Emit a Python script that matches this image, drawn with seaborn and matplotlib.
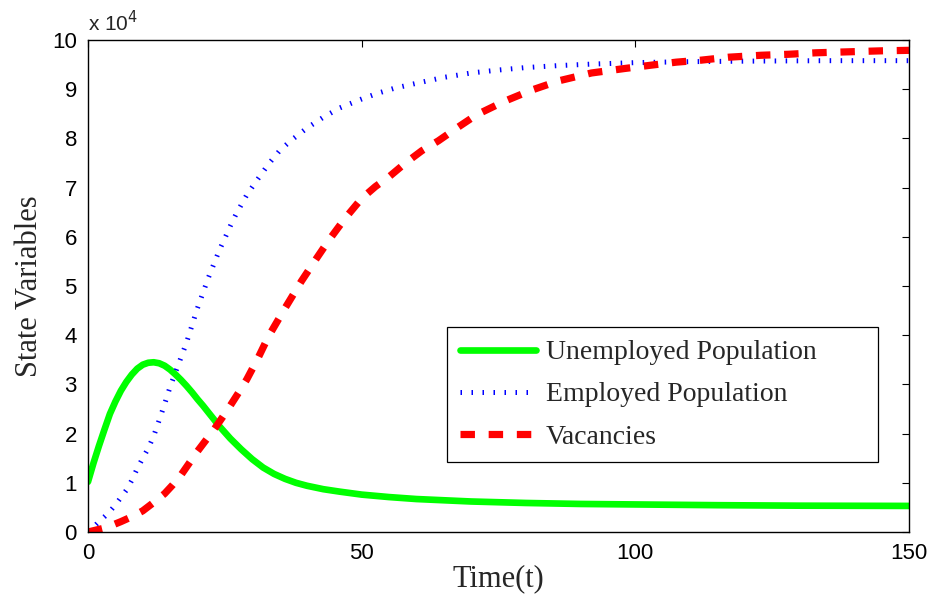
import matplotlib
matplotlib.use("Agg")
import matplotlib.pyplot as plt
import seaborn as sns

# ---- data (values in units of 10^4) ----
t_unemp = [0, 1, 2, 3, 4, 5, 6, 7, 8, 9, 10, 11, 12, 13, 14, 15, 16, 17, 18, 19, 20, 21, 22, 23, 24,
           26, 28, 30, 32, 34, 36, 38, 40, 43, 46, 50, 55, 60, 70, 80, 90, 100, 115, 130, 150]
unemp = [1.02, 1.4, 1.75, 2.08, 2.4, 2.65, 2.87, 3.05, 3.2, 3.32, 3.4, 3.44, 3.45, 3.43, 3.38, 3.3,
         3.2, 3.09, 2.97, 2.84, 2.7, 2.57, 2.43, 2.29, 2.15, 1.9, 1.68, 1.48, 1.31, 1.18, 1.08, 1.0,
         0.94, 0.87, 0.82, 0.76, 0.71, 0.67, 0.62, 0.59, 0.57, 0.56, 0.545, 0.535, 0.53]

t_emp = [0, 1, 2, 3, 4, 5, 6, 7, 8, 9, 10, 11, 12, 13, 14, 15, 16, 17, 18, 19, 20, 21, 22, 23, 24,
         25, 26, 27, 29, 31, 33, 35, 37, 40, 43, 46, 50, 53, 56, 60, 65, 70, 75, 80, 86, 92, 100,
         110, 120, 135, 150]
emp = [0, 0.1, 0.21, 0.31, 0.42, 0.55, 0.7, 0.85, 1.05, 1.29, 1.5, 1.7, 1.95, 2.27, 2.6, 2.95, 3.25,
       3.55, 3.85, 4.2, 4.55, 4.86, 5.17, 5.45, 5.73, 5.97, 6.22, 6.45, 6.85, 7.17, 7.48, 7.75, 7.95,
       8.21, 8.43, 8.62, 8.8, 8.92, 9.02, 9.12, 9.24, 9.33, 9.39, 9.44, 9.48, 9.51, 9.54, 9.56, 9.57,
       9.58, 9.58]

t_vac = [0, 1.5, 3, 4, 6, 8, 10, 12, 14, 15.5, 17, 18.5, 20, 21.5, 23, 24.5, 26, 27.5, 29, 31, 33,
         36, 39, 41.5, 44, 47, 50, 52.5, 55, 58, 61, 64, 67.5, 71, 76, 81, 86, 92, 98, 103, 107.5,
         112, 117, 123, 128, 133, 139, 145, 150]
vac = [0, 0.04, 0.08, 0.12, 0.21, 0.31, 0.43, 0.6, 0.78, 0.96, 1.16, 1.4, 1.64, 1.86, 2.08, 2.32,
       2.57, 2.83, 3.1, 3.52, 3.98, 4.55, 5.1, 5.52, 5.93, 6.38, 6.78, 7.02, 7.22, 7.5, 7.75, 7.95,
       8.22, 8.48, 8.75, 8.98, 9.17, 9.33, 9.42, 9.49, 9.55, 9.59, 9.65, 9.69, 9.71, 9.74, 9.76,
       9.78, 9.79]

labels = ["Unemployed Population", "Employed Population", "Vacancies"]
x_ticks = [0, 50, 100, 150]
y_ticks = list(range(0, 11))

sns.set_style("white")
plt.rcParams["font.family"] = ["Liberation Sans", "DejaVu Sans"]

fig = plt.figure(figsize=(9.3, 5.97), dpi=100)
ax = fig.add_axes([88 / 930, 65 / 597, 821 / 930, 492 / 597])

sns.lineplot(x=t_unemp, y=unemp, ax=ax, color="#00ff00", linewidth=4.8, label=labels[0])
l2 = sns.lineplot(x=t_emp, y=emp, ax=ax, color="#0000ff", linewidth=3.6, label=labels[1]).lines[-1]
l2.set_dashes((0.3, 1.9))
l2.set_dash_capstyle("butt")
l3 = sns.lineplot(x=t_vac, y=vac, ax=ax, color="#ff0000", linewidth=5.2, label=labels[2]).lines[-1]
l3.set_dashes((2.0, 1.9))
l3.set_dash_capstyle("butt")

ax.set_xlim(0, 150)
ax.set_ylim(0, 10)
ax.set_xticks(x_ticks)
ax.set_yticks(y_ticks)
ax.tick_params(direction="in", length=5, width=0.8, top=True, right=True,
               labelsize=16, colors="black")
ax.tick_params(axis="x", pad=8)
ax.tick_params(axis="y", pad=8)
for s in ax.spines.values():
    s.set_visible(True)
    s.set_color("black")
    s.set_linewidth(1.0)

ax.set_xlabel("Time(t)", family="Liberation Serif", fontsize=22, labelpad=0)
ax.set_ylabel("State Variables", family="Liberation Serif", fontsize=22, labelpad=6)
ax.text(0, 1.01, r"x 10$^{4}$", transform=ax.transAxes, fontsize=15, ha="left", va="bottom")

leg = ax.legend(loc="lower left",
                bbox_to_anchor=((447 - 88) / 821, (532 - 462) / 492, 431 / 821, 134 / 492),
                mode="expand", frameon=True, fancybox=False,
                edgecolor="black", prop={"family": "Liberation Serif", "size": 20},
                handlelength=2.75, labelspacing=0.6, borderpad=0.45, handletextpad=0.35,
                borderaxespad=0)
leg.get_frame().set_linewidth(0.9)
leg.get_frame().set_alpha(1)

fig.savefig("out.png", dpi=100)
